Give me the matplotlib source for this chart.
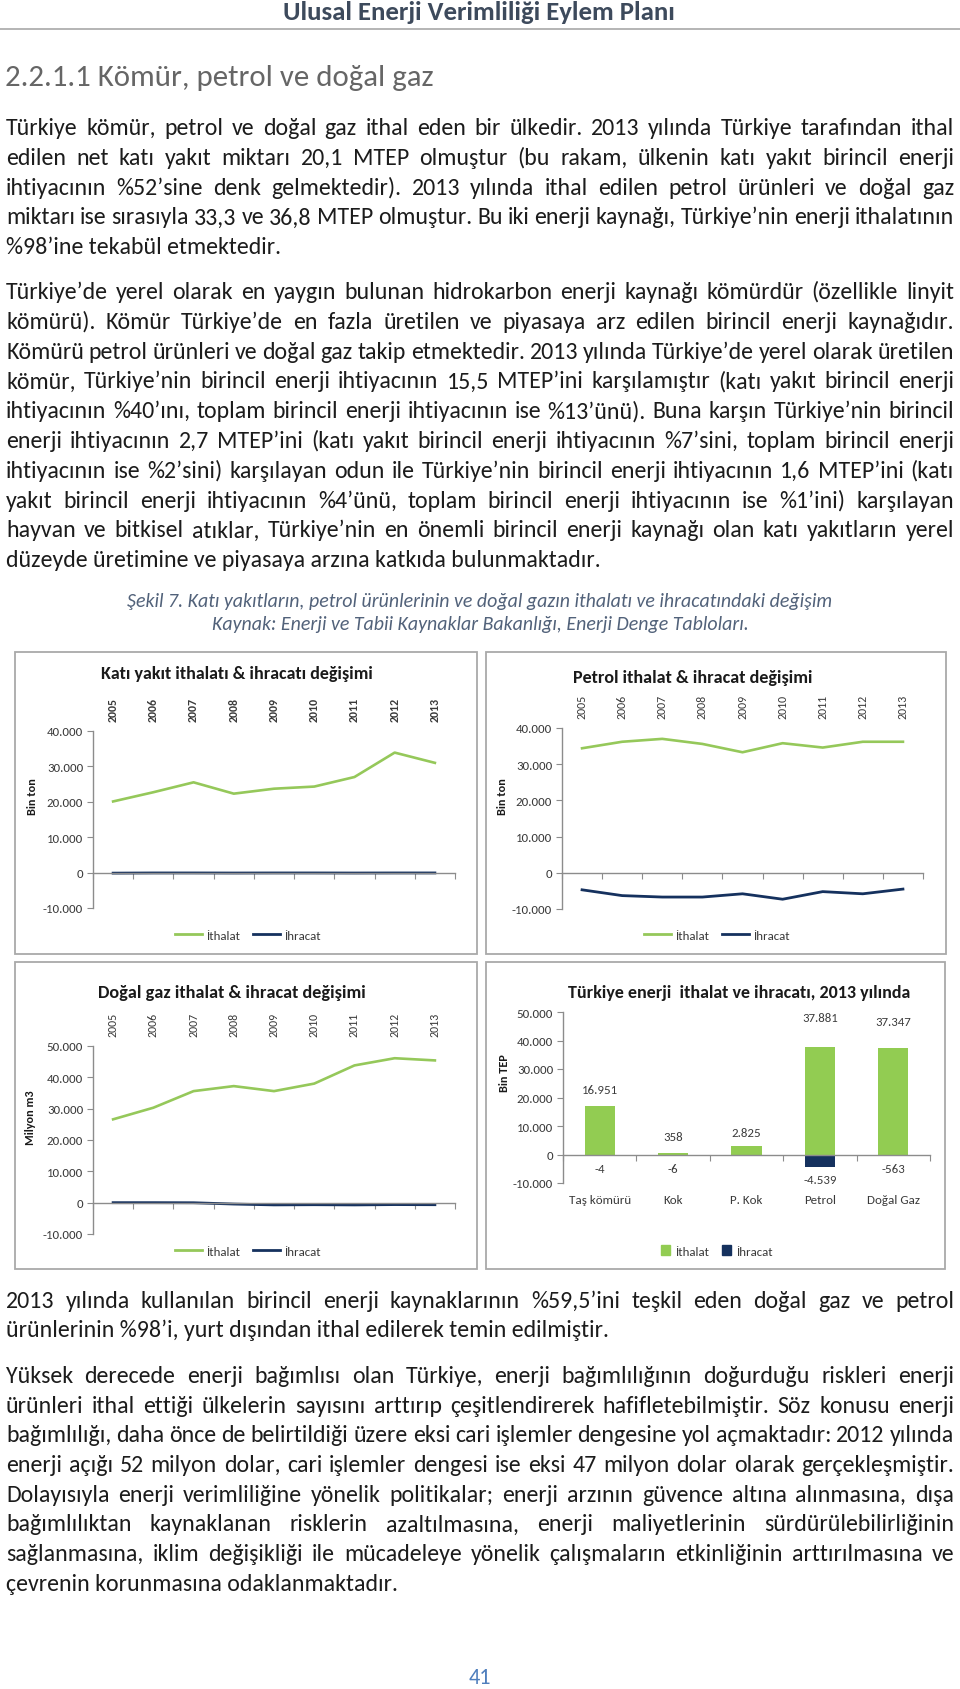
import numpy as np
import matplotlib
matplotlib.use("Agg")
import matplotlib.pyplot as plt
from matplotlib.font_manager import FontProperties
from matplotlib.lines import Line2D
from matplotlib.patches import Rectangle, Patch
from matplotlib.ticker import FuncFormatter

# Carlito has the same metrics as Calibri, the font of the original page
FONT = "Carlito"
plt.rcParams["font.family"] = FONT

W_PX, H_PX, DPI = 960, 1690, 100

GREEN = "#95c85a"
NAVY = "#15315e"
AX_C = "#8c8c8c"
TICK_C = "#3a3a3a"
TXT = "#1c1c1c"

# ---- chart data ----
years = ["2005", "2006", "2007", "2008", "2009", "2010", "2011", "2012", "2013"]

kati_ithalat = [20100, 22700, 25500, 22300, 23700, 24300, 27000, 33900, 31000]
kati_ihracat = [-150, -100, -100, -120, -100, -100, -120, -100, -100]

petrol_ithalat = [34400, 36200, 37000, 35600, 33300, 35800, 34600, 36200, 36200]
petrol_ihracat = [-4700, -6300, -6700, -6700, -5800, -7300, -5200, -5800, -4500]

gaz_ithalat = [26600, 30300, 35600, 37200, 35600, 38000, 43800, 46100, 45400]
gaz_ihracat = [0, 0, -30, -440, -710, -650, -720, -610, -650]

kaynaklar = ["Taş kömürü", "Kok", "P. Kok", "Petrol", "Doğal Gaz"]
ithalat_2013 = [16951, 358, 2825, 37881, 37347]
ihracat_2013 = [-4, -6, 0, -4539, -563]

# ---- page text ----
header = "Ulusal Enerji Verimliliği Eylem Planı"
heading = "2.2.1.1 Kömür, petrol ve doğal gaz"
para1 = [
    "Türkiye kömür, petrol ve doğal gaz ithal eden bir ülkedir. 2013 yılında Türkiye tarafından ithal",
    "edilen net katı yakıt miktarı 20,1 MTEP olmuştur (bu rakam, ülkenin katı yakıt birincil enerji",
    "ihtiyacının %52’sine denk gelmektedir). 2013 yılında ithal edilen petrol ürünleri ve doğal gaz",
    "miktarı ise sırasıyla 33,3 ve 36,8 MTEP olmuştur. Bu iki enerji kaynağı, Türkiye’nin enerji ithalatının",
    "%98’ine tekabül etmektedir.",
]
para2 = [
    "Türkiye’de yerel olarak en yaygın bulunan hidrokarbon enerji kaynağı kömürdür (özellikle linyit",
    "kömürü). Kömür Türkiye’de en fazla üretilen ve piyasaya arz edilen birincil enerji kaynağıdır.",
    "Kömürü petrol ürünleri ve doğal gaz takip etmektedir. 2013 yılında Türkiye’de yerel olarak üretilen",
    "kömür, Türkiye’nin birincil enerji ihtiyacının 15,5 MTEP’ini karşılamıştır (katı yakıt birincil enerji",
    "ihtiyacının %40’ını, toplam birincil enerji ihtiyacının ise %13’ünü). Buna karşın Türkiye’nin birincil",
    "enerji ihtiyacının 2,7 MTEP’ini (katı yakıt birincil enerji ihtiyacının %7’sini, toplam birincil enerji",
    "ihtiyacının ise %2’sini) karşılayan odun ile Türkiye’nin birincil enerji ihtiyacının 1,6 MTEP’ini (katı",
    "yakıt birincil enerji ihtiyacının %4’ünü, toplam birincil enerji ihtiyacının ise %1’ini) karşılayan",
    "hayvan ve bitkisel atıklar, Türkiye’nin en önemli birincil enerji kaynağı olan katı yakıtların yerel",
    "düzeyde üretimine ve piyasaya arzına katkıda bulunmaktadır.",
]
caption = [
    "Şekil 7. Katı yakıtların, petrol ürünlerinin ve doğal gazın ithalatı ve ihracatındaki değişim",
    "Kaynak: Enerji ve Tabii Kaynaklar Bakanlığı, Enerji Denge Tabloları.",
]
para3 = [
    "2013 yılında kullanılan birincil enerji kaynaklarının %59,5’ini teşkil eden doğal gaz ve petrol",
    "ürünlerinin %98’i, yurt dışından ithal edilerek temin edilmiştir.",
]
para4 = [
    "Yüksek derecede enerji bağımlısı olan Türkiye, enerji bağımlılığının doğurduğu riskleri enerji",
    "ürünleri ithal ettiği ülkelerin sayısını arttırıp çeşitlendirerek hafifletebilmiştir. Söz konusu enerji",
    "bağımlılığı, daha önce de belirtildiği üzere eksi cari işlemler dengesine yol açmaktadır: 2012 yılında",
    "enerji açığı 52 milyon dolar, cari işlemler dengesi ise eksi 47 milyon dolar olarak gerçekleşmiştir.",
    "Dolayısıyla enerji verimliliğine yönelik politikalar; enerji arzının güvence altına alınmasına, dışa",
    "bağımlılıktan kaynaklanan risklerin azaltılmasına, enerji maliyetlerinin sürdürülebilirliğinin",
    "sağlanmasına, iklim değişikliği ile mücadeleye yönelik çalışmaların etkinliğinin arttırılmasına ve",
    "çevrenin korunmasına odaklanmaktadır.",
]

fig = plt.figure(figsize=(W_PX / DPI, H_PX / DPI), dpi=DPI)
page = fig.add_axes([0, 0, 1, 1])
page.set_xlim(0, W_PX)
page.set_ylim(H_PX, 0)
page.axis("off")

renderer = fig.canvas.get_renderer()


def text_w(s, prop):
    w, h, d = renderer.get_text_width_height_descent(s, prop, ismath=False)
    return w


def fit_size(s, width, **kw):
    prop = FontProperties(family=FONT, size=10, **kw)
    return 10 * width / text_w(s, prop)


X_L, X_R = 6, 954
LINE_H = 29.8
body_size = fit_size(para2[-1], 598)


def draw_paragraph(lines, y0, spacing=LINE_H):
    for i, line in enumerate(lines):
        y = y0 + i * spacing
        size = body_size
        prop = FontProperties(family=FONT, size=size)
        if i == len(lines) - 1:
            page.text(X_L, y, line, fontproperties=prop, color=TXT, va="baseline", ha="left")
            continue
        words = line.split(" ")
        ws = [text_w(w, prop) for w in words]
        min_gap = 0.14 * size * DPI / 72
        gap = (X_R - X_L - sum(ws)) / (len(words) - 1)
        if gap < min_gap:
            size = size * (X_R - X_L - min_gap * (len(words) - 1)) / sum(ws)
            prop = FontProperties(family=FONT, size=size)
            ws = [text_w(w, prop) for w in words]
            gap = (X_R - X_L - sum(ws)) / (len(words) - 1)
        x = X_L
        for w, wd in zip(words, ws):
            page.text(x, y, w, fontproperties=prop, color=TXT, va="baseline", ha="left")
            x += wd + gap


# header + heading
page.text(283, 20, header, color="#3d4a5c", fontweight="bold",
          fontsize=fit_size(header, 393, weight="bold"), va="baseline", ha="left")
page.plot([0, W_PX], [30, 30], color="#a8a8a8", lw=1.2)
page.text(5, 86, heading, color="#666666",
          fontsize=fit_size(heading, 430), va="baseline", ha="left")

draw_paragraph(para1, 135)
draw_paragraph(para2, 299)

cap_w = [700, 534]
for i, c in enumerate(caption):
    page.text(480, 607 + i * 23, c, color="#52627a", style="italic",
              fontsize=fit_size(c, cap_w[i], style="italic"),
              va="baseline", ha="center")

draw_paragraph(para3, 1308, 29.5)
draw_paragraph(para4, 1383, 29.7)

page.text(480, 1678, "41", color="#4f7fbd", fontsize=16, ha="center", va="center")


def thousands(v, pos=None):
    return f"{v:,.0f}".replace(",", ".")


def add_axes_px(x0, x1, y_top, y_bot):
    return fig.add_axes([x0 / W_PX, 1 - y_bot / H_PX, (x1 - x0) / W_PX, (y_bot - y_top) / H_PX])


def frame(box, title, title_xy, title_w, ylabel, ylabel_xy):
    x0, y0, x1, y1 = box
    page.add_patch(Rectangle((x0, y0), x1 - x0, y1 - y0, fill=False,
                             edgecolor="#a9a9a9", lw=1.3))
    page.text(title_xy[0], title_xy[1], title, fontweight="bold", color="#1a1a1a",
              fontsize=fit_size(title, title_w, weight="bold"), ha="center", va="center")
    page.text(ylabel_xy[0], ylabel_xy[1], ylabel, fontweight="bold", color="#1a1a1a",
              fontsize=8.8, rotation=90, ha="center", va="center")


def style_axes(ax, ymax, ncat):
    ax.set_xlim(-0.5, ncat - 0.5)
    ax.set_ylim(-10000, ymax)
    ax.patch.set_alpha(0)
    for s in ["top", "right"]:
        ax.spines[s].set_visible(False)
    ax.spines["bottom"].set_position(("data", 0))
    for s in ["left", "bottom"]:
        ax.spines[s].set_color(AX_C)
        ax.spines[s].set_linewidth(1.0)
    ax.set_xticks(np.arange(-0.5, ncat, 1))
    ax.tick_params(axis="x", direction="out", length=4, color=AX_C, labelbottom=False)
    ax.set_yticks(np.arange(-10000, ymax + 1, 10000))
    ax.yaxis.set_major_formatter(FuncFormatter(thousands))
    ax.tick_params(axis="y", direction="out", length=4, color=AX_C,
                   labelsize=9.3, labelcolor=TICK_C, pad=3)


def line_chart(box, plot, ymax, title, title_xy, title_w, ylabel, ylabel_xy,
               imp, exp, legend_xy, bold_years):
    frame(box, title, title_xy, title_w, ylabel, ylabel_xy)
    ax = add_axes_px(*plot)
    x = np.arange(len(years))
    ax.plot(x, imp, color=GREEN, lw=1.9, solid_joinstyle="round")
    ax.plot(x, exp, color=NAVY, lw=2.0, solid_joinstyle="round")
    style_axes(ax, ymax, len(years))
    sec = ax.secondary_xaxis("top")
    sec.set_xticks(x, years, rotation=90, fontsize=8.6,
                   fontweight="bold" if bold_years else "normal", color=TICK_C)
    sec.tick_params(length=0, pad=7)
    sec.spines["top"].set_visible(False)
    handles = [Line2D([], [], color=GREEN, lw=2), Line2D([], [], color=NAVY, lw=2)]
    fig.legend(handles, ["İthalat", "İhracat"], loc="center",
               bbox_to_anchor=(legend_xy[0] / W_PX, 1 - legend_xy[1] / H_PX),
               ncol=2, frameon=False, fontsize=9.3, handlelength=2.1,
               handletextpad=0.3, columnspacing=1.0, labelcolor=TICK_C)


line_chart((15, 653, 477, 955), (93, 455, 732, 909), 40000,
           "Katı yakıt ithalatı & ihracatı değişimi", (237, 674), 273,
           "Bin ton", (32, 797), kati_ithalat, kati_ihracat, (248, 936), True)
line_chart((486, 653, 946, 955), (562, 923, 729, 910), 40000,
           "Petrol ithalat & ihracat değişimi", (693, 678), 240,
           "Bin ton", (502, 797), petrol_ithalat, petrol_ihracat, (717, 936), False)
line_chart((15, 963, 477, 1270), (93, 455, 1047, 1235), 50000,
           "Doğal gaz ithalat & ihracat değişimi", (232, 993), 267,
           "Milyon m3", (31, 1118), gaz_ithalat, gaz_ihracat, (248, 1252), False)

# bar chart, 2013
frame((486, 963, 945, 1270), "Türkiye enerji  ithalat ve ihracatı, 2013 yılında",
      (739, 993), 343, "Bin TEP", (504, 1073))
ax = add_axes_px(563, 930, 1013, 1184)
xb = np.arange(len(kaynaklar))
ax.bar(xb, ithalat_2013, width=0.41, color="#92cc52")
ax.bar(xb, ihracat_2013, width=0.41, color=NAVY)
style_axes(ax, 50000, len(kaynaklar))
sec = ax.secondary_xaxis("bottom")
sec.set_xticks(xb, kaynaklar, fontsize=9.4, color=TICK_C)
sec.tick_params(length=0, pad=8)
sec.spines["bottom"].set_visible(False)

imp_off = [12, 12, 10, 21, 19]
exp_off = [-10, -10, -9, -9, -9]
for i in range(len(kaynaklar)):
    ax.annotate(thousands(ithalat_2013[i]), (xb[i], ithalat_2013[i]), xytext=(0, imp_off[i]),
                textcoords="offset points", ha="center", va="center", fontsize=9.3, color=TICK_C)
    if ihracat_2013[i] != 0:
        ax.annotate(thousands(ihracat_2013[i]), (xb[i], ihracat_2013[i]), xytext=(0, exp_off[i]),
                    textcoords="offset points", ha="center", va="center", fontsize=9.3, color=TICK_C)

handles = [Patch(color="#92cc52"), Patch(color=NAVY)]
fig.legend(handles, ["İthalat", "İhracat"], loc="center",
           bbox_to_anchor=(717 / W_PX, 1 - 1252 / H_PX), ncol=2, frameon=False,
           fontsize=9.3, handlelength=0.7, handleheight=0.7, handletextpad=0.4,
           columnspacing=1.0, labelcolor=TICK_C)

fig.savefig("out.png", dpi=DPI)
